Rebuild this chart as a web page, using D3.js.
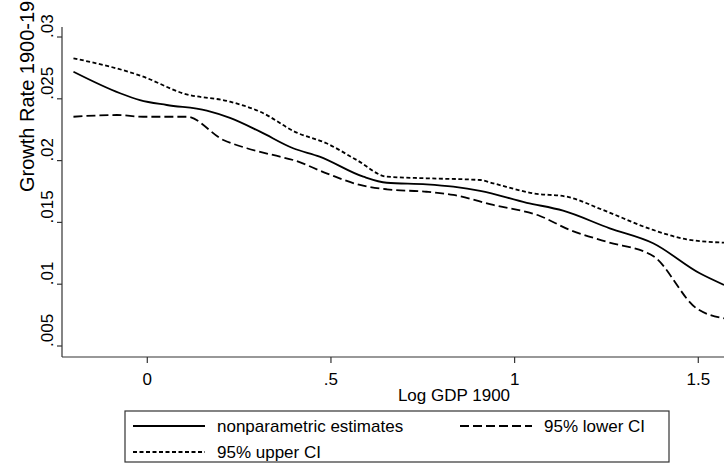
<!DOCTYPE html>
<html lang="en">
<head>
    <meta charset="UTF-8">
    <title>Growth rate vs log GDP 1900</title>
    <style>
        body { margin: 0; background: #fff; }
        text { font-family: "Liberation Sans", Arial, sans-serif; font-size: 17px; fill: #000; }
        .y-title { font-size: 20px; }
        .axis-line { stroke: #333; stroke-width: 1.2px; }
        .tick-line { stroke: #333; stroke-width: 1.2px; }
        .curve { fill: none; stroke: #000; stroke-width: 1.8px; }
        .legend-box { fill: #fff; stroke: #333; stroke-width: 1.2px; }
    </style>
</head>
<body>
    <div id="container"></div>
    <script src="https://d3js.org/d3.v7.min.js"></script>
    <script>
        // values
        var estX = [-0.201, -0.074, -0.020, 0.053, 0.162, 0.225, 0.307, 0.397, 0.469, 0.588, 0.652, 0.760, 0.833, 0.906, 1.033, 1.132, 1.259, 1.377, 1.504, 1.570];
        var estY = [0.02719, 0.02545, 0.0249, 0.0245, 0.02404, 0.02345, 0.02234, 0.0210, 0.02032, 0.0187, 0.01821, 0.01808, 0.01789, 0.01756, 0.01659, 0.01595, 0.01452, 0.01331, 0.01088, 0.00994];

        var upperX = [-0.201, -0.011, 0.098, 0.225, 0.307, 0.407, 0.488, 0.570, 0.652, 0.760, 0.906, 0.942, 1.051, 1.142, 1.241, 1.377, 1.468, 1.570];
        var upperY = [0.02828, 0.02679, 0.02544, 0.02477, 0.02396, 0.02226, 0.0214, 0.02005, 0.0187, 0.01857, 0.01843, 0.01816, 0.01735, 0.01708, 0.0160, 0.01439, 0.01363, 0.01336];

        var lowerX = [-0.201, -0.083, -0.011, 0.107, 0.207, 0.271, 0.361, 0.397, 0.488, 0.579, 0.652, 0.760, 0.833, 0.942, 1.069, 1.150, 1.250, 1.377, 1.495, 1.570];
        var lowerY = [0.02355, 0.02369, 0.02355, 0.02355, 0.02167, 0.0210, 0.02032, 0.02005, 0.01897, 0.01803, 0.01768, 0.01748, 0.01722, 0.01641, 0.01552, 0.01439, 0.01344, 0.01228, 0.00805, 0.00724];

        var xTicks = [0, 0.5, 1, 1.5];
        var xTickLabels = ["0", ".5", "1", "1.5"];
        var yTicks = [0.005, 0.01, 0.015, 0.02, 0.025, 0.03];
        var yTickLabels = [".005", ".01", ".015", ".02", ".025", ".03"];

        var seriesNames = ["nonparametric estimates", "95% lower CI", "95% upper CI"];

        function zip(xs, ys) {
            return xs.map(function (v, i) { return [v, ys[i]]; });
        }

        var W = 724, H = 463;
        var plotLeft = 62, plotRight = 724, plotTop = 27, plotBottom = 357;

        var svg = d3.select("#container").append("svg").
        attr("width", W).
        attr("height", H);

        var x = d3.scaleLinear().domain([-0.2322, 1.57]).range([plotLeft, plotRight]);
        var y = d3.scaleLinear().domain([0.00411, 0.03081]).range([plotBottom, plotTop]);

        // axes lines
        svg.append("line").attr("class", "axis-line").
        attr("x1", plotLeft).attr("x2", plotLeft).
        attr("y1", plotTop).attr("y2", plotBottom);
        svg.append("line").attr("class", "axis-line").
        attr("x1", plotLeft).attr("x2", plotRight).
        attr("y1", plotBottom).attr("y2", plotBottom);

        // x ticks
        svg.selectAll(".xtick").data(xTicks).enter().append("line").
        attr("class", "tick-line").
        attr("x1", function (d) { return x(d); }).
        attr("x2", function (d) { return x(d); }).
        attr("y1", plotBottom).attr("y2", plotBottom + 6);

        svg.selectAll(".xlab").data(xTicks).enter().append("text").
        attr("x", function (d) { return x(d); }).
        attr("y", 385).
        attr("text-anchor", "middle").
        text(function (d, i) { return xTickLabels[i]; });

        // y ticks (labels start at the tick, rotated)
        svg.selectAll(".ytick").data(yTicks).enter().append("line").
        attr("class", "tick-line").
        attr("x1", plotLeft - 5).attr("x2", plotLeft).
        attr("y1", function (d) { return y(d); }).
        attr("y2", function (d) { return y(d); });

        svg.selectAll(".ylab").data(yTicks).enter().append("text").
        attr("transform", function (d) { return "translate(53," + (y(d) + 1) + ") rotate(-90)"; }).
        attr("text-anchor", "start").
        text(function (d, i) { return yTickLabels[i]; });

        // axis titles (y title runs off the top, as in the original)
        svg.append("text").
        attr("class", "y-title").
        attr("transform", "translate(34,192) rotate(-90)").
        attr("text-anchor", "start").
        text("Growth Rate 1900-1990");

        svg.append("text").
        attr("x", 454).attr("y", 401).
        attr("text-anchor", "middle").
        text("Log GDP 1900");

        // curves
        var line = d3.line().
        x(function (d) { return x(d[0]); }).
        y(function (d) { return y(d[1]); }).
        curve(d3.curveMonotoneX);

        var plot = svg.append("g");

        plot.append("path").attr("class", "curve").
        attr("d", line(zip(upperX, upperY))).
        attr("stroke-dasharray", "4,2.5");

        plot.append("path").attr("class", "curve").
        attr("d", line(zip(lowerX, lowerY))).
        attr("stroke-dasharray", "9,4");

        plot.append("path").attr("class", "curve").
        attr("d", line(zip(estX, estY)));

        // legend
        var legend = svg.append("g");
        legend.append("rect").attr("class", "legend-box").
        attr("x", 125).attr("y", 411).
        attr("width", 544).attr("height", 51);

        var legendItems = [
            { name: seriesNames[0], dash: null, lx: 133, ly: 426 },
            { name: seriesNames[1], dash: "9,4", lx: 460, ly: 426 },
            { name: seriesNames[2], dash: "4,2.5", lx: 133, ly: 452 }
        ];

        legendItems.forEach(function (it) {
            legend.append("line").attr("class", "curve").
            attr("x1", it.lx).attr("x2", it.lx + 72).
            attr("y1", it.ly).attr("y2", it.ly).
            attr("stroke-dasharray", it.dash);
            legend.append("text").
            attr("x", it.lx + 84).attr("y", it.ly + 6).
            text(it.name);
        });
    </script>
</body>
</html>
